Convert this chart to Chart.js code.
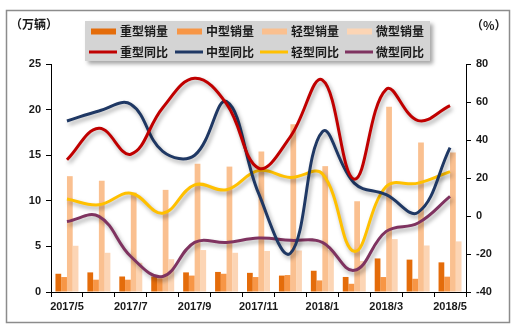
<!DOCTYPE html>
<html>
<head>
<meta charset="utf-8">
<script src="https://cdn.jsdelivr.net/npm/chart.js@4.4.1/dist/chart.umd.min.js"></script>
<style>
  html, body { margin: 0; padding: 0; background: #ffffff; }
  #wrap { width: 518px; height: 332px; position: relative; }
</style>
</head>
<body>
<div id="wrap"><canvas id="c" width="518" height="332"></canvas></div>
<script>
// Monthly truck sales (10k units) by class, and year-on-year growth (%)
const months = ['2017/5','2017/6','2017/7','2017/8','2017/9','2017/10','2017/11','2017/12','2018/1','2018/2','2018/3','2018/4','2018/5'];

const heavySales  = [2.0, 2.15, 1.7, 1.7, 2.15, 2.2, 2.1, 1.8, 2.33, 1.65, 3.68, 3.55, 3.25];
const mediumSales = [1.64, 1.35, 1.35, 1.5, 1.8, 2.0, 1.64, 1.86, 1.27, 0.9, 1.64, 1.45, 1.68];
const lightSales  = [12.7, 12.2, 10.9, 11.2, 14.05, 13.75, 15.4, 18.4, 13.8, 9.95, 20.3, 16.4, 15.3];
const microSales  = [5.07, 4.3, 3.2, 3.6, 4.6, 4.3, 4.5, 4.55, 4.6, 3.4, 5.8, 5.1, 5.55];

const heavyYoY  = [29.6, 46.2, 32.5, 57.0, 72.5, 59.0, 25.2, 41.8, 71.6, 19.4, 66.7, 50.2, 58.1];
const mediumYoY = [50.0, 55.3, 58.8, 34.0, 32.0, 60.2, 12.0, -19.6, 44.4, 17.3, 11.2, 1.9, 36.0];
const lightYoY  = [8.9, 5.9, 12.0, 1.5, 16.4, 13.8, 23.9, 20.3, 22.2, -18.6, 15.5, 17.3, 23.4];
const microYoY  = [-2.9, -0.2, -21.3, -31.8, -13.9, -13.9, -11.6, -12.8, -13.9, -28.6, -8.1, -3.7, 10.3];

const salesTicks = { min: 0, max: 25, step: 5 };
const yoyTicks = { min: -40, max: 80, step: 20 };

const LABEL_FONT = "'Liberation Sans', Arial, sans-serif";
const CJK_FONT = "'Noto Sans CJK SC', 'Noto Sans', sans-serif";

function barSet(label, data, color) {
  return { type: 'bar', label, data, backgroundColor: color, borderWidth: 0,
           yAxisID: 'y', order: 2, categoryPercentage: 0.72, barPercentage: 1.0 };
}
function lineSet(label, data, color) {
  return { type: 'line', label, data, borderColor: color, backgroundColor: color,
           borderWidth: 3, pointRadius: 0, tension: 0.4, fill: false,
           yAxisID: 'y1', order: 1, isYoY: true };
}

const datasets = [
  barSet('重型销量', heavySales, '#E46C0A'),
  barSet('中型销量', mediumSales, '#F79646'),
  barSet('轻型销量', lightSales, '#FAC090'),
  barSet('微型销量', microSales, '#FCD5B5'),
  lineSet('重型同比', heavyYoY, '#C00000'),
  lineSet('中型同比', mediumYoY, '#1F3864'),
  lineSet('轻型同比', lightYoY, '#FFC000'),
  lineSet('微型同比', microYoY, '#7F3360')
];

// soft drop shadow under the growth lines
const lineShadow = {
  id: 'lineShadow',
  beforeDatasetDraw(chart, args) {
    if (!chart.data.datasets[args.index].isYoY) return;
    const ctx = chart.ctx;
    ctx.save();
    ctx.shadowColor = 'rgba(0,0,0,0.35)';
    ctx.shadowBlur = 4;
    ctx.shadowOffsetX = 2;
    ctx.shadowOffsetY = 3;
  },
  afterDatasetDraw(chart, args) {
    if (!chart.data.datasets[args.index].isYoY) return;
    chart.ctx.restore();
  }
};

// outer frame, unit captions and the boxed two-row legend
const decorations = {
  id: 'decorations',
  afterDraw(chart) {
    const ctx = chart.ctx;
    ctx.save();
    ctx.strokeStyle = '#8c8c8c';
    ctx.lineWidth = 1.5;
    ctx.strokeRect(6.5, 10.5, 503, 312);

    ctx.fillStyle = '#1a1a1a';
    ctx.font = 'bold 12px ' + CJK_FONT;
    ctx.textBaseline = 'middle';
    ctx.textAlign = 'left';
    ctx.fillText('（万辆）', 10, 24);
    ctx.fillText('（%）', 471, 25);

    // legend box
    const bx = 85, by = 21, bw = 345, bh = 40;
    ctx.save();
    ctx.shadowColor = 'rgba(0,0,0,0.35)';
    ctx.shadowBlur = 4;
    ctx.shadowOffsetX = 3;
    ctx.shadowOffsetY = 3;
    ctx.fillStyle = '#d4d4d4';
    ctx.fillRect(bx, by, bw, bh);
    ctx.restore();

    const colX = [91, 177, 262, 347];
    const rowY = [31.5, 52];
    chart.data.datasets.forEach((ds, i) => {
      const row = i < 4 ? 0 : 1;
      const col = i % 4;
      const x = colX[col], y = rowY[row];
      if (ds.type === 'bar') {
        ctx.fillStyle = ds.backgroundColor;
        ctx.fillRect(x, y - 3, 25, 6);
      } else {
        ctx.strokeStyle = ds.borderColor;
        ctx.lineWidth = 3;
        ctx.beginPath();
        ctx.moveTo(x - 2, y);
        ctx.lineTo(x + 26, y);
        ctx.stroke();
      }
      ctx.fillStyle = '#1a1a1a';
      ctx.font = 'bold 12px ' + CJK_FONT;
      ctx.textAlign = 'left';
      ctx.textBaseline = 'middle';
      ctx.fillText(ds.label, x + 29, y);
    });
    ctx.restore();
  }
};

new Chart(document.getElementById('c'), {
  data: { labels: months, datasets },
  options: {
    responsive: false,
    animation: false,
    devicePixelRatio: 1,
    layout: { padding: { top: 64, left: 0, right: 0, bottom: 0 } },
    plugins: { legend: { display: false }, tooltip: { enabled: false } },
    scales: {
      x: {
        type: 'category',
        offset: true,
        grid: { display: true, drawOnChartArea: false, offset: true, tickLength: 5, color: '#000', lineWidth: 1 },
        border: { display: true, color: '#000', width: 1 },
        ticks: {
          autoSkip: false, maxRotation: 0, padding: 3, color: '#1a1a1a',
          font: { family: LABEL_FONT, size: 11, weight: 'bold' },
          callback(v, i) { return i % 2 === 0 ? this.getLabelForValue(v) : ''; }
        },
        afterFit(s) { s.height = 40; }
      },
      y: {
        position: 'left',
        min: salesTicks.min, max: salesTicks.max,
        grid: { display: true, drawOnChartArea: false, tickLength: 5, color: '#000' },
        border: { display: true, color: '#000', width: 1 },
        ticks: { stepSize: salesTicks.step, padding: 5, color: '#1a1a1a',
                 font: { family: LABEL_FONT, size: 11, weight: 'bold' } },
        afterFit(s) { s.width = 51; }
      },
      y1: {
        position: 'right',
        min: yoyTicks.min, max: yoyTicks.max,
        grid: { display: true, drawOnChartArea: false, tickLength: 5, color: '#000' },
        border: { display: true, color: '#000', width: 1 },
        ticks: { stepSize: yoyTicks.step, padding: 5, color: '#1a1a1a',
                 font: { family: LABEL_FONT, size: 11, weight: 'bold' } },
        afterFit(s) { s.width = 52; }
      }
    }
  },
  plugins: [lineShadow, decorations]
});
</script>
</body>
</html>
